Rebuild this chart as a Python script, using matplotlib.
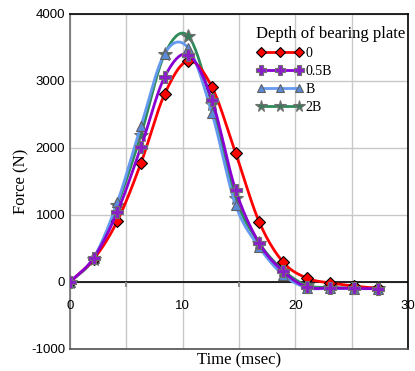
import matplotlib
matplotlib.use("Agg")
import matplotlib.pyplot as plt
import numpy as np

# sample times (msec) and measured force (N) for each bearing plate depth
time_ms = [0, 2.1, 4.2, 6.3, 8.4, 10.5, 12.6, 14.7, 16.8, 18.9, 21.0, 23.1, 25.2, 27.3]
force_0 = [0, 340, 910, 1776, 2805, 3300, 2910, 1925, 895, 300, 60, -15, -60, -95]
force_05b = [0, 360, 1045, 2015, 3060, 3390, 2716, 1373, 580, 160, -75, -90, -95, -100]
force_b = [0, 360, 1190, 2330, 3410, 3490, 2520, 1150, 520, 110, -85, -95, -100, -100]
force_2b = [0, 350, 1150, 2200, 3400, 3670, 2650, 1250, 580, 180, -50, -80, -90, -95]
labels = ["0", "0.5B", "B", "2B"]

x_labels = [0, 10, 20, 30]
y_ticks = [-1000, 0, 1000, 2000, 3000, 4000]

SERIF = ["Liberation Serif", "DejaVu Serif"]
SANS = ["Liberation Sans", "DejaVu Sans"]


def smooth(x, y, n=20):
    """Catmull-Rom curve through the points (like a spreadsheet smoothed line)."""
    x = np.asarray(x, float)
    y = np.asarray(y, float)
    px = np.concatenate([[2 * x[0] - x[1]], x, [2 * x[-1] - x[-2]]])
    py = np.concatenate([[2 * y[0] - y[1]], y, [2 * y[-1] - y[-2]]])
    t = np.linspace(0, 1, n, endpoint=False)
    xs, ys = [], []
    for i in range(1, len(px) - 2):
        for p, out in ((px, xs), (py, ys)):
            p0, p1, p2, p3 = p[i - 1], p[i], p[i + 1], p[i + 2]
            out.append(0.5 * (2 * p1 + (-p0 + p2) * t
                              + (2 * p0 - 5 * p1 + 4 * p2 - p3) * t ** 2
                              + (-p0 + 3 * p1 - 3 * p2 + p3) * t ** 3))
    xs.append([x[-1]])
    ys.append([y[-1]])
    return np.concatenate(xs), np.concatenate(ys)


fig = plt.figure(figsize=(4.15, 3.71), dpi=100)
ax = fig.add_axes([0.1687, 0.0593, 0.8143, 0.903])

styles = {
    "0": dict(color="#ff0000", marker="D", mfc="#ff0000", mec="#000000", ms=6.5, z=4),
    "0.5B": dict(color="#8a00d0", marker="P", mfc="#8a1fc8", mec="#707070", ms=9, z=5),
    "B": dict(color="#6699f0", marker="^", mfc="#5b8ad8", mec="#606060", ms=7.5, z=3),
    "2B": dict(color="#2e8b5a", marker="*", mfc="#3b7a5a", mec="#707070", ms=10, z=2),
}
series = dict(zip(labels, [force_0, force_05b, force_b, force_2b]))

handles = []
for name in labels:
    st = styles[name]
    xs, ys = smooth(time_ms, series[name])
    ax.plot(xs, ys, color=st["color"], lw=2.0, zorder=st["z"])
    ax.plot(time_ms, series[name], ls="none", marker=st["marker"], ms=st["ms"],
            mfc=st["mfc"], mec=st["mec"], mew=0.8, zorder=st["z"] + 0.5)
    h, = ax.plot([], [], color=st["color"], lw=2.0, marker=st["marker"],
                 ms=st["ms"] * 0.85, mfc=st["mfc"], mec=st["mec"], mew=0.8)
    handles.append(h)

ax.set_xlim(0, 30)
ax.set_ylim(-1000, 4000)
ax.set_xticks(np.arange(0, 31, 5))
ax.set_xticklabels([])
ax.set_yticks(y_ticks)
ax.set_yticklabels([str(v) for v in y_ticks], family=SANS, fontsize=9.5)
ax.tick_params(axis="both", length=0)
ax.grid(True, color="#c8c8c8", lw=1.0)
ax.set_axisbelow(True)
ax.axhline(0, color="black", lw=1.2, zorder=1.5)
ax.vlines(np.arange(5, 30, 10), -70, 0, color="#909090", lw=1.5, zorder=1.6)
for v in x_labels:
    ax.text(v, -270, str(v), ha="center", va="top", family=SANS, fontsize=9.5)

for side in ("top", "right"):
    ax.spines[side].set_color("black")
ax.spines["left"].set_color("#707070")
ax.spines["bottom"].set_color("#505050")
for sp in ax.spines.values():
    sp.set_linewidth(1.2)

ax.set_xlabel("Time (msec)", family=SERIF, fontsize=12, labelpad=-1)
ax.set_ylabel("Force (N)", family=SERIF, fontsize=12, labelpad=1)

leg = ax.legend(handles, labels, title="Depth of bearing plate", loc="upper left",
                bbox_to_anchor=(0.535, 0.982), frameon=False, numpoints=3,
                handlelength=3.4, handletextpad=0.15, labelspacing=0.36,
                borderaxespad=0, prop={"family": SERIF, "size": 10},
                alignment="left")
leg.get_title().set_fontfamily(SERIF)
leg.get_title().set_fontsize(12)

fig.savefig("out.png", dpi=100)
